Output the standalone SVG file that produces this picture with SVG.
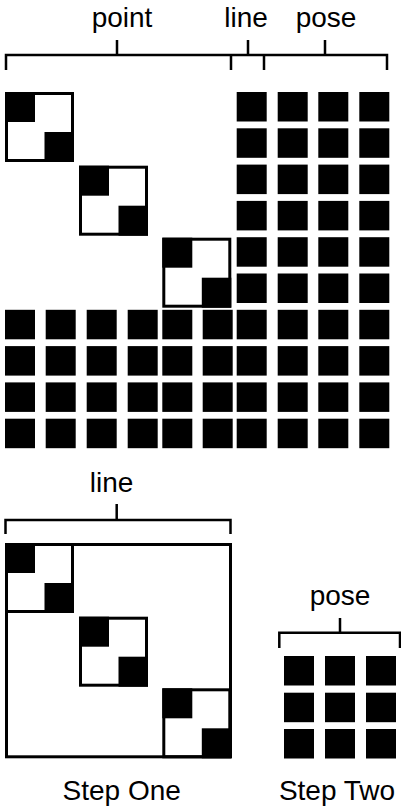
<svg xmlns="http://www.w3.org/2000/svg" xmlns:xlink="http://www.w3.org/1999/xlink" width="401" height="806" viewBox="0 0 401 806">
<style>
.lbl{font-family:"Liberation Sans",Arial,sans-serif;font-size:28px;fill:#000;text-anchor:middle}
.br{fill:none;stroke:#000;stroke-width:2.5}
.sq{fill:#000}
.box{fill:none;stroke:#000;stroke-width:3}
</style>
<defs>
<g id="blk">
<rect class="box" x="1.5" y="1.5" width="66" height="67"/>
<rect class="sq" x="0" y="0" width="30" height="30"/>
<rect class="sq" x="39.5" y="40" width="29.5" height="30"/>
</g>
<rect id="s" class="sq" width="30" height="29.5"/>
</defs>
<rect width="401" height="806" fill="#fff"/>
<g id="connectors">
<path class="br" d="M6 70V55H387V70M231 70V55M264 70V55M117 55V40M248 55V40M325 55V40"/>
<path class="br" d="M5.5 534V520H230.5V534M116.7 520V504"/>
<path class="br" d="M279.3 648V632.7H400V648M340 632.7V618"/>
</g>
<g id="labels">
<text class="lbl" x="122" y="27">point</text>
<text class="lbl" x="246" y="27">line</text>
<text class="lbl" x="326" y="27">pose</text>
<text class="lbl" x="111.5" y="492">line</text>
<text class="lbl" x="340" y="605">pose</text>
<text class="lbl" x="121.7" y="800">Step One</text>
<text class="lbl" x="337" y="800">Step Two</text>
</g>
<g id="matrix-top">
<g id="point-blocks">
<use xlink:href="#blk" x="5" y="92"/>
<use xlink:href="#blk" x="79" y="165.7"/>
<use xlink:href="#blk" x="162.3" y="237.7"/>
</g>
<g id="upper-right">
<use xlink:href="#s" x="236.7" y="92"/><use xlink:href="#s" x="277.7" y="92"/><use xlink:href="#s" x="318.3" y="92"/><use xlink:href="#s" x="359.3" y="92"/>
<use xlink:href="#s" x="236.7" y="128.3"/><use xlink:href="#s" x="277.7" y="128.3"/><use xlink:href="#s" x="318.3" y="128.3"/><use xlink:href="#s" x="359.3" y="128.3"/>
<use xlink:href="#s" x="236.7" y="164.6"/><use xlink:href="#s" x="277.7" y="164.6"/><use xlink:href="#s" x="318.3" y="164.6"/><use xlink:href="#s" x="359.3" y="164.6"/>
<use xlink:href="#s" x="236.7" y="200.9"/><use xlink:href="#s" x="277.7" y="200.9"/><use xlink:href="#s" x="318.3" y="200.9"/><use xlink:href="#s" x="359.3" y="200.9"/>
<use xlink:href="#s" x="236.7" y="237.2"/><use xlink:href="#s" x="277.7" y="237.2"/><use xlink:href="#s" x="318.3" y="237.2"/><use xlink:href="#s" x="359.3" y="237.2"/>
<use xlink:href="#s" x="236.7" y="273.5"/><use xlink:href="#s" x="277.7" y="273.5"/><use xlink:href="#s" x="318.3" y="273.5"/><use xlink:href="#s" x="359.3" y="273.5"/>
</g>
<g id="bottom-rows">
<g transform="translate(0,309.8)">
<use xlink:href="#s" x="5"/><use xlink:href="#s" x="45.7"/><use xlink:href="#s" x="86.7"/><use xlink:href="#s" x="127.7"/><use xlink:href="#s" x="162.3"/><use xlink:href="#s" x="202.7"/><use xlink:href="#s" x="236.7"/><use xlink:href="#s" x="277.7"/><use xlink:href="#s" x="318.3"/><use xlink:href="#s" x="359.3"/>
</g>
<g transform="translate(0,346.1)">
<use xlink:href="#s" x="5"/><use xlink:href="#s" x="45.7"/><use xlink:href="#s" x="86.7"/><use xlink:href="#s" x="127.7"/><use xlink:href="#s" x="162.3"/><use xlink:href="#s" x="202.7"/><use xlink:href="#s" x="236.7"/><use xlink:href="#s" x="277.7"/><use xlink:href="#s" x="318.3"/><use xlink:href="#s" x="359.3"/>
</g>
<g transform="translate(0,382.4)">
<use xlink:href="#s" x="5"/><use xlink:href="#s" x="45.7"/><use xlink:href="#s" x="86.7"/><use xlink:href="#s" x="127.7"/><use xlink:href="#s" x="162.3"/><use xlink:href="#s" x="202.7"/><use xlink:href="#s" x="236.7"/><use xlink:href="#s" x="277.7"/><use xlink:href="#s" x="318.3"/><use xlink:href="#s" x="359.3"/>
</g>
<g transform="translate(0,418.7)">
<use xlink:href="#s" x="5"/><use xlink:href="#s" x="45.7"/><use xlink:href="#s" x="86.7"/><use xlink:href="#s" x="127.7"/><use xlink:href="#s" x="162.3"/><use xlink:href="#s" x="202.7"/><use xlink:href="#s" x="236.7"/><use xlink:href="#s" x="277.7"/><use xlink:href="#s" x="318.3"/><use xlink:href="#s" x="359.3"/>
</g>
</g>
</g>
<g id="step-one">
<rect class="box" x="6.5" y="544.5" width="224" height="212.3"/>
<use xlink:href="#blk" x="5" y="543"/>
<use xlink:href="#blk" x="79" y="616.7"/>
<use xlink:href="#blk" x="162.3" y="688.3"/>
</g>
<g id="step-two">
<use xlink:href="#s" x="284" y="656"/><use xlink:href="#s" x="325" y="656"/><use xlink:href="#s" x="366" y="656"/>
<use xlink:href="#s" x="284" y="692.7"/><use xlink:href="#s" x="325" y="692.7"/><use xlink:href="#s" x="366" y="692.7"/>
<use xlink:href="#s" x="284" y="729"/><use xlink:href="#s" x="325" y="729"/><use xlink:href="#s" x="366" y="729"/>
</g>
</svg>
